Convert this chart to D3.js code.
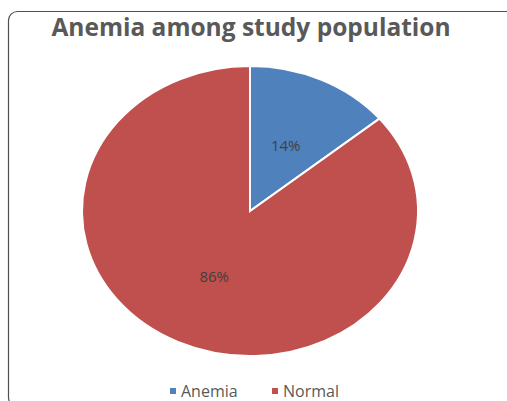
<!DOCTYPE html>
<html>
<head>
<meta charset="utf-8">
<script src="https://cdn.jsdelivr.net/npm/d3@7"></script>
<style>
  body { margin: 0; background: #fff; }
  svg { display: block; }
</style>
</head>
<body>
<div id="chart"></div>
<script>
// datos del grafico
var categories = ["Anemia", "Normal"];
var values = [14, 86];
var colors = ["#4F81BD", "#C0504D"];

var width = 507;
var height = 401;

var svg = d3.select("#chart")
    .append("svg")
    .attr("width", width)
    .attr("height", height);

// marco redondeado (cortado a la derecha y abajo)
svg.append("rect")
    .attr("x", 8.5)
    .attr("y", 11.5)
    .attr("width", 520)
    .attr("height", 395)
    .attr("rx", 9)
    .attr("fill", "none")
    .attr("stroke", "#505050")
    .attr("stroke-width", 1.2);

// titulo
svg.append("text")
    .attr("x", 251)
    .attr("y", 36)
    .attr("text-anchor", "middle")
    .style("font-family", "'Open Sans', sans-serif")
    .style("font-weight", "bold")
    .style("font-size", "24.5px")
    .style("fill", "#595959")
    .text("Anemia among study population");

// pie eliptico
var cx = 250, cy = 211;
var rx = 168, ry = 145;
var sx = rx / ry;

var pie = d3.pie().sort(null).value(function(d) { return d; });
var data_ready = pie(values);

var arcGenerator = d3.arc()
    .innerRadius(0)
    .outerRadius(ry);

var g = svg.append("g")
    .attr("transform", "translate(" + cx + "," + cy + ")");

g.append("g")
    .attr("transform", "scale(" + sx + ",1)")
    .selectAll("path")
    .data(data_ready)
    .enter()
    .append("path")
    .attr("d", arcGenerator)
    .attr("fill", function(d, i) { return colors[i]; })
    .attr("stroke", "#fff")
    .attr("stroke-width", 2)
    .attr("vector-effect", "non-scaling-stroke");

// etiquetas de porcentaje
g.selectAll("text.lbl")
    .data(data_ready)
    .enter()
    .append("text")
    .attr("class", "lbl")
    .attr("x", function(d) { return arcGenerator.centroid(d)[0] * sx; })
    .attr("y", function(d) { return arcGenerator.centroid(d)[1]; })
    .attr("text-anchor", "middle")
    .attr("dy", "0.35em")
    .style("font-family", "'Open Sans', sans-serif")
    .style("font-size", "15px")
    .style("fill", "#404040")
    .text(function(d) { return d.data + "%"; });

// leyenda
var legendX = [170, 272];
var legend = svg.selectAll("g.legend")
    .data(categories)
    .enter()
    .append("g")
    .attr("class", "legend")
    .attr("transform", function(d, i) { return "translate(" + legendX[i] + ",397)"; });

legend.append("rect")
    .attr("x", 0)
    .attr("y", -9)
    .attr("width", 6)
    .attr("height", 6)
    .attr("fill", function(d, i) { return colors[i]; });

legend.append("text")
    .attr("x", 11)
    .attr("y", 0)
    .style("font-family", "'Open Sans', sans-serif")
    .style("font-size", "16px")
    .style("fill", "#595959")
    .text(function(d) { return d; });
</script>
</body>
</html>
